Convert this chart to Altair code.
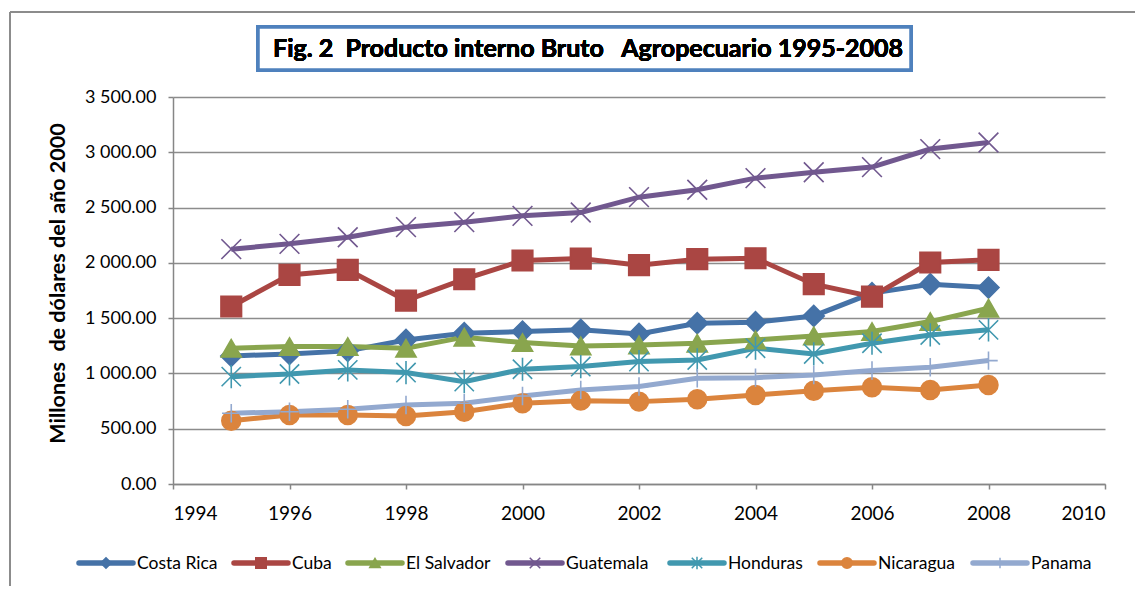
import altair as alt
import pandas as pd

years = list(range(1995, 2009))
series_names = ["Costa Rica", "Cuba", "El Salvador", "Guatemala", "Honduras", "Nicaragua", "Panama"]
costa_rica = [1158, 1176, 1204, 1303, 1364, 1379, 1394, 1357, 1454, 1463, 1520, 1726, 1807, 1777]
cuba = [1605, 1891, 1937, 1659, 1852, 2021, 2039, 1979, 2033, 2042, 1807, 1695, 2003, 2027]
el_salvador = [1228, 1243, 1243, 1228, 1328, 1279, 1249, 1258, 1273, 1303, 1339, 1379, 1469, 1590]
guatemala = [2124, 2172, 2232, 2323, 2368, 2425, 2455, 2594, 2661, 2766, 2820, 2866, 3029, 3089]
honduras = [971, 995, 1032, 1008, 926, 1038, 1062, 1107, 1122, 1228, 1176, 1273, 1348, 1394]
nicaragua = [573, 624, 624, 615, 654, 730, 754, 745, 766, 805, 844, 875, 851, 896]
panama = [640, 654, 676, 715, 730, 796, 851, 881, 956, 962, 986, 1026, 1056, 1116]
x_ticks = [1994, 1996, 1998, 2000, 2002, 2004, 2006, 2008, 2010]
y_ticks = [0, 500, 1000, 1500, 2000, 2500, 3000, 3500]
title_text = "Fig. 2\u00a0 Producto interno Bruto\u00a0\u00a0 Agropecuario 1995-2008"
y_title = "Millones\u00a0 de dólares del año 2000"

colors = ["#4572A7", "#AA4643", "#89A54E", "#71588F", "#4198AF", "#DB843D", "#93A9CF"]
shapes = ["diamond", "square", "triangle-up",
          "M-1,-1L1,1M-1,1L1,-1",
          "M-1,-1L1,1M-1,1L1,-1M0,-1.2L0,1.2",
          "circle",
          "M0,-1L0,1M-1,0L1,0"]
sizes = [440, 340, 420, 324, 324, 361, 300]
widths = [5, 5, 5, 6, 5, 5, 5]

values = [costa_rica, cuba, el_salvador, guatemala, honduras, nicaragua, panama]
rows = []
for i, (name, vals) in enumerate(zip(series_names, values)):
    for y, v in zip(years, vals):
        rows.append({"pais": name, "year": y, "value": v, "order": i})
df = pd.DataFrame(rows)

FONT = "Lato"
W, H = 932, 387

color_scale = alt.Scale(domain=series_names, range=colors)
shape_scale = alt.Scale(domain=series_names, range=shapes)
size_scale = alt.Scale(domain=series_names, range=sizes)
width_scale = alt.Scale(domain=series_names, range=widths)

xenc = alt.X("year:Q", scale=alt.Scale(domain=[1994, 2010], nice=False),
             axis=alt.Axis(values=x_ticks, format="d", title=None, grid=False,
                           labelFontSize=19, labelFont=FONT, labelColor="black",
                           labelPadding=15, tickSize=5, tickColor="#868686", tickWidth=1.5,
                           domainColor="#868686", domainWidth=1.5))
yenc = alt.Y("value:Q", scale=alt.Scale(domain=[0, 3500], nice=False),
             axis=alt.Axis(values=y_ticks, title=y_title,
                           labelExpr="replace(format(datum.value, ',.2f'), ',', ' ')",
                           labelFontSize=18, labelFont=FONT, labelColor="black",
                           labelPadding=12, tickSize=5, tickColor="#868686", tickWidth=1.5,
                           domainColor="#868686", domainWidth=1.5,
                           gridColor="#8c8c8c", gridWidth=1.5,
                           titleFont=FONT, titleFontSize=21.5, titleFontWeight="bold",
                           titleColor="black", titleX=-109, titleY=186,
                           titleAngle=270, titleAlign="center", titleBaseline="alphabetic"))

base = alt.Chart(df)
lines = base.mark_line().encode(
    x=xenc, y=yenc,
    color=alt.Color("pais:N", scale=color_scale, legend=None),
    strokeWidth=alt.StrokeWidth("pais:N", scale=width_scale, legend=None),
    detail="pais:N",
    order=alt.Order("year:Q"),
)
points = base.mark_point(filled=False, strokeWidth=1.6, opacity=1).encode(
    x="year:Q", y="value:Q",
    shape=alt.Shape("pais:N", scale=shape_scale, legend=None),
    size=alt.Size("pais:N", scale=size_scale, legend=None),
    fill=alt.Fill("pais:N", scale=color_scale, legend=None),
    stroke=alt.Stroke("pais:N", scale=color_scale, legend=None),
)
main = alt.layer(lines, points)

# manual legend (layout in pixel offsets from the plot's left edge)
leg_line_start = [-94, 61, 175, 335, 497, 647, 800]
leg_line_len = 54
leg_df = pd.DataFrame({
    "pais": series_names,
    "x1": leg_line_start,
    "x2": [s + leg_line_len for s in leg_line_start],
    "xm": [s + leg_line_len / 2 for s in leg_line_start],
    "xt": [s + leg_line_len + 4 for s in leg_line_start],
})
lx = alt.Scale(domain=[0, W], range=[0, W])
leg_y = 466
leg_base = alt.Chart(leg_df)
leg_lines = leg_base.mark_rule(strokeWidth=5.5, strokeCap="round").encode(
    x=alt.X("x1:Q", scale=lx, axis=None), x2="x2:Q", y=alt.value(leg_y),
    color=alt.Color("pais:N", scale=color_scale, legend=None))
leg_pts = leg_base.mark_point(filled=False, strokeWidth=1.5, opacity=1).encode(
    x=alt.X("xm:Q", scale=lx, axis=None), y=alt.value(leg_y),
    shape=alt.Shape("pais:N", scale=shape_scale, legend=None),
    size=alt.value(110),
    fill=alt.Fill("pais:N", scale=color_scale, legend=None),
    stroke=alt.Stroke("pais:N", scale=color_scale, legend=None))
leg_text = leg_base.mark_text(align="left", baseline="middle", font=FONT, fontSize=17.5,
                              color="black").encode(
    x=alt.X("xt:Q", scale=lx, axis=None), y=alt.value(leg_y + 1), text="pais:N")
legend = alt.layer(leg_lines, leg_pts, leg_text)

# decorations: outer frame, title box
frame_left = alt.Chart(leg_df).mark_rule(color="#8c8c8c", strokeWidth=1.5).encode(
    x=alt.value(-163), y=alt.value(-85), y2=alt.value(500))
frame_top = alt.Chart(leg_df).mark_rule(color="#8c8c8c", strokeWidth=1.5).encode(
    x=alt.value(-163), x2=alt.value(975), y=alt.value(-85))
title_box = alt.Chart(leg_df).mark_rect(fill="white", stroke="#4F81BD", strokeWidth=3.5).encode(
    x=alt.value(85), x2=alt.value(738), y=alt.value(-70), y2=alt.value(-27))
title_mark = alt.Chart(leg_df).mark_text(font=FONT, fontSize=25, fontWeight="bold",
                                         color="black", align="center", baseline="middle").encode(
    x=alt.value(415), y=alt.value(-48), text=alt.value(title_text))
deco = alt.layer(frame_left, frame_top, title_box, title_mark)

chart = alt.layer(main, legend, deco).resolve_scale(x="independent").properties(
    width=W, height=H,
    autosize=alt.AutoSizeParams(type="none"),
    padding={"left": 165, "top": 89, "right": 30, "bottom": 102},
    background="white",
).configure_view(stroke=None)

chart.save("out.html", embed_options={"renderer": "svg", "actions": False})
